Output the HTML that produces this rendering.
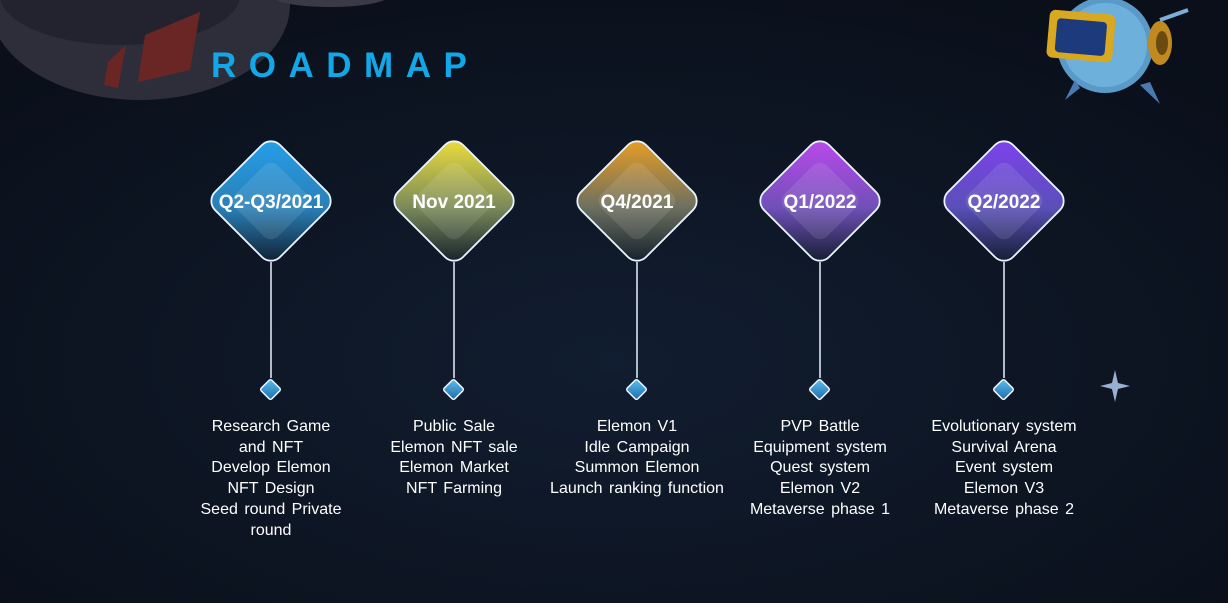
<!DOCTYPE html>
<html><head><meta charset="utf-8"><style>
html,body{margin:0;padding:0}
body{width:1228px;height:603px;overflow:hidden;background:#0b111c;font-family:"Liberation Sans",sans-serif;position:relative}
.t{position:absolute;top:417px;width:220px;text-align:center;color:#fff;font-size:16px;line-height:20.7px;word-spacing:2px}
</style></head><body>
<svg width="1228" height="603" style="position:absolute;left:0;top:0">
<defs>
<radialGradient id="bg" cx="0.5" cy="0.6" r="0.7"><stop offset="0" stop-color="#111d30"/><stop offset="1" stop-color="#0a0f19"/></radialGradient>
<linearGradient id="g0" x1="0" y1="0" x2="1" y2="1"><stop offset="0" stop-color="#24a0ea"/><stop offset="0.55" stop-color="#2a80b8"/><stop offset="1" stop-color="#0e1a28"/></linearGradient>
<linearGradient id="g1" x1="0" y1="0" x2="1" y2="1"><stop offset="0" stop-color="#f2e23a"/><stop offset="0.55" stop-color="#7a8a5a"/><stop offset="1" stop-color="#0e1a28"/></linearGradient>
<linearGradient id="g2" x1="0" y1="0" x2="1" y2="1"><stop offset="0" stop-color="#f0a020"/><stop offset="0.55" stop-color="#6c7060"/><stop offset="1" stop-color="#0e1a28"/></linearGradient>
<linearGradient id="g3" x1="0" y1="0" x2="1" y2="1"><stop offset="0" stop-color="#c048f0"/><stop offset="0.55" stop-color="#7050b8"/><stop offset="1" stop-color="#0e1a28"/></linearGradient>
<linearGradient id="g4" x1="0" y1="0" x2="1" y2="1"><stop offset="0" stop-color="#8040f0"/><stop offset="0.55" stop-color="#5a50b8"/><stop offset="1" stop-color="#0e1a28"/></linearGradient>
<linearGradient id="sd" x1="0" y1="0" x2="1" y2="1"><stop offset="0" stop-color="#5cc0f0"/><stop offset="1" stop-color="#1e6aa8"/></linearGradient>
</defs>
<rect width="1228" height="603" fill="url(#bg)"/>
<ellipse cx="140" cy="5" rx="150" ry="95" fill="#2e2e3a"/>
<ellipse cx="120" cy="-5" rx="120" ry="50" fill="#232330"/>
<ellipse cx="330" cy="-5" rx="60" ry="12" fill="#3a3a46"/>
<path d="M145 35 L200 12 L190 70 L138 82 Z" fill="#6a2624"/>
<path d="M108 62 L126 45 L118 88 L104 85 Z" fill="#6a2624"/>
<path d="M1115 370 L1118 383 L1130 386 L1118 389 L1115 402 L1112 389 L1100 386 L1112 383 Z" fill="#9ab0d0"/>
<circle cx="1105" cy="45" r="48" fill="#5a9ac8"/>
<circle cx="1105" cy="45" r="42" fill="#6eb0dc"/>
<rect x="1048" y="12" width="66" height="48" rx="6" fill="#d8a820" transform="rotate(5 1080 36)"/>
<rect x="1056" y="20" width="50" height="34" rx="4" fill="#1c3a7c" transform="rotate(5 1080 36)"/>
<ellipse cx="1160" cy="43" rx="12" ry="22" fill="#c08a20"/>
<ellipse cx="1162" cy="43" rx="6" ry="12" fill="#6a4a10"/>
<line x1="1160" y1="20" x2="1188" y2="10" stroke="#7ab0d8" stroke-width="4"/>
<path d="M1075 80 L1065 100 L1080 88 Z" fill="#4a7ab0"/>
<path d="M1140 85 L1160 104 L1150 82 Z" fill="#4a7ab0"/>
<g stroke="#e8f0ff" stroke-width="1.5" fill="none">
<line x1="271" y1="262" x2="271" y2="378"/><line x1="454" y1="262" x2="454" y2="378"/><line x1="637" y1="262" x2="637" y2="378"/><line x1="820" y1="262" x2="820" y2="378"/><line x1="1004" y1="262" x2="1004" y2="378"/>
</g>
<g stroke="#e8f4ff" stroke-width="1.8">
<rect x="225" y="155" width="92" height="92" rx="13" fill="url(#g0)" transform="rotate(45 271 201)"/>
<rect x="408" y="155" width="92" height="92" rx="13" fill="url(#g1)" transform="rotate(45 454 201)"/>
<rect x="591" y="155" width="92" height="92" rx="13" fill="url(#g2)" transform="rotate(45 637 201)"/>
<rect x="774" y="155" width="92" height="92" rx="13" fill="url(#g3)" transform="rotate(45 820 201)"/>
<rect x="958" y="155" width="92" height="92" rx="13" fill="url(#g4)" transform="rotate(45 1004 201)"/>
</g>
<g fill="#ffffff" fill-opacity="0.1">
<rect x="241" y="171" width="60" height="60" rx="10" transform="rotate(45 271 201)"/>
<rect x="424" y="171" width="60" height="60" rx="10" transform="rotate(45 454 201)"/>
<rect x="607" y="171" width="60" height="60" rx="10" transform="rotate(45 637 201)"/>
<rect x="790" y="171" width="60" height="60" rx="10" transform="rotate(45 820 201)"/>
<rect x="974" y="171" width="60" height="60" rx="10" transform="rotate(45 1004 201)"/>
</g>
<g stroke="#e8f4ff" stroke-width="1.5" fill="url(#sd)">
<rect x="263" y="382" width="15" height="15" rx="2" transform="rotate(45 270.5 389.5)"/>
<rect x="446" y="382" width="15" height="15" rx="2" transform="rotate(45 453.5 389.5)"/>
<rect x="629" y="382" width="15" height="15" rx="2" transform="rotate(45 636.5 389.5)"/>
<rect x="812" y="382" width="15" height="15" rx="2" transform="rotate(45 819.5 389.5)"/>
<rect x="996" y="382" width="15" height="15" rx="2" transform="rotate(45 1003.5 389.5)"/>
</g>
<g fill="#fff" font-family="Liberation Sans, sans-serif" font-weight="bold" font-size="19" text-anchor="middle">
<text x="271" y="208">Q2-Q3/2021</text><text x="454" y="208">Nov 2021</text><text x="637" y="208">Q4/2021</text><text x="820" y="208">Q1/2022</text><text x="1004" y="208">Q2/2022</text>
</g>
<text x="211" y="77" fill="#12a8e8" font-family="Liberation Sans, sans-serif" font-weight="bold" font-size="35" letter-spacing="12.5">ROADMAP</text>
</svg>
<div class="t" style="left:161px">Research Game<br>and NFT<br>Develop Elemon<br>NFT Design<br>Seed round Private<br>round</div>
<div class="t" style="left:344px">Public Sale<br>Elemon NFT sale<br>Elemon Market<br>NFT Farming</div>
<div class="t" style="left:527px">Elemon V1<br>Idle Campaign<br>Summon Elemon<br>Launch ranking function</div>
<div class="t" style="left:710px">PVP Battle<br>Equipment system<br>Quest system<br>Elemon V2<br>Metaverse phase 1</div>
<div class="t" style="left:894px">Evolutionary system<br>Survival Arena<br>Event system<br>Elemon V3<br>Metaverse phase 2</div>
</body></html>
